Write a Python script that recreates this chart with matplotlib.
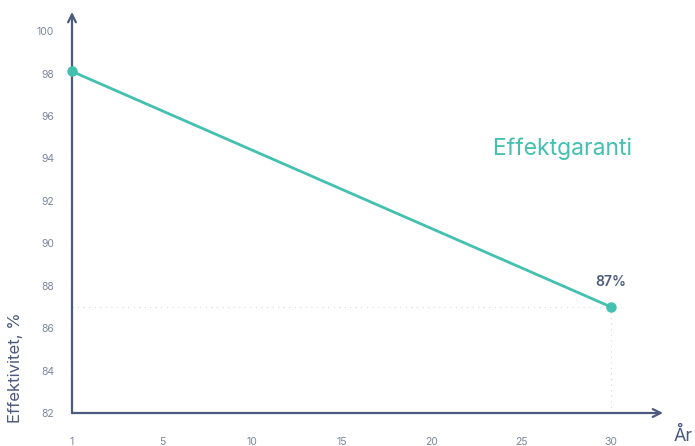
"""Effektgaranti: efficiency guarantee over the years."""

import matplotlib.pyplot as plt

plt.rcParams["font.family"] = ["Inter", "DejaVu Sans"]

# data
years = [0, 30]
efficiency = [98.1, 87]
x_ticks = [0, 5, 10, 15, 20, 25, 30]
x_tick_labels = ["1", "5", "10", "15", "20", "25", "30"]
y_ticks = [82, 84, 86, 88, 90, 92, 94, 96, 98, 100]

TEAL = "#42c1b0"
SLATE = "#4b5a7e"
TICK = "#7d879c"

fig = plt.figure(figsize=(6.95, 4.46), dpi=100)
ax = fig.add_axes([72 / 695, 33 / 446, 591 / 695, 401 / 446])
ax.set_xlim(0, 32.9)
ax.set_ylim(82, 100.9)

for side in ["top", "right", "left", "bottom"]:
    ax.spines[side].set_visible(False)

# axes with arrowheads
ax.annotate("", xy=(1, 0), xytext=(0, 0), xycoords="axes fraction",
            arrowprops=dict(arrowstyle="->", color=SLATE, lw=1.6,
                            mutation_scale=14, shrinkA=0, shrinkB=0))
ax.annotate("", xy=(0, 1), xytext=(0, 0), xycoords="axes fraction",
            arrowprops=dict(arrowstyle="->", color=SLATE, lw=1.6,
                            mutation_scale=14, shrinkA=0, shrinkB=0))

# guide lines to the last point
ax.plot([years[0], years[-1]], [efficiency[-1], efficiency[-1]], ls=(0, (1, 4)),
        color="#d5d9e0", lw=0.8, zorder=1)
ax.plot([years[-1], years[-1]], [82, efficiency[-1]], ls=(0, (1, 4)),
        color="#d5d9e0", lw=0.8, zorder=1)

ax.plot(years, efficiency, color=TEAL, lw=2, marker="o", markersize=6.5,
        clip_on=False, zorder=3)

ax.text(years[-1], efficiency[-1] + 0.85, f"{efficiency[-1]:.0f}%", ha="center",
        va="bottom", color=SLATE, fontsize=10, fontweight="semibold")
ax.text(27.3, 94.45, "Effektgaranti", ha="center", va="center", color=TEAL,
        fontsize=16.5)

ax.set_xticks(x_ticks)
ax.set_xticklabels(x_tick_labels)
ax.set_yticks(y_ticks)
ax.tick_params(axis="both", length=0, colors=TICK, labelsize=7.5)
ax.tick_params(axis="x", pad=17)
ax.tick_params(axis="y", pad=13)

ax.set_ylabel("Effektivitet, %", color=SLATE, fontsize=12)
ax.yaxis.set_label_coords(-0.083, 0.112)
fig.text(683 / 695, 1 - 436 / 446, "År", ha="center", va="center",
         color=SLATE, fontsize=13)

fig.savefig("out.png", dpi=100)
